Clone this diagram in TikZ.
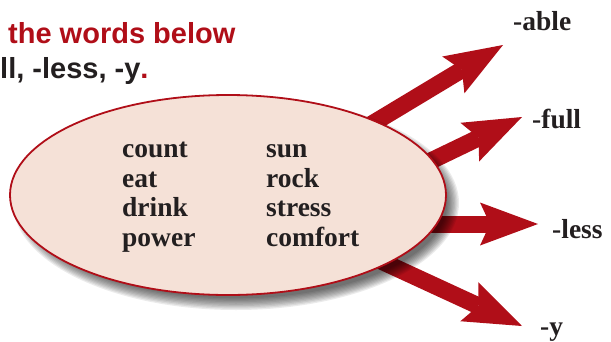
\documentclass[tikz,border=0pt]{standalone}
\usepackage{fontspec}
\setmainfont{Liberation Serif}
\newfontfamily\headfont{Liberation Sans}
\usetikzlibrary{arrows.meta,shapes.geometric}
\definecolor{brand}{RGB}{176,14,24}
\definecolor{ink}{RGB}{35,31,32}
\definecolor{blush}{RGB}{245,225,215}

\begin{document}
\begin{tikzpicture}[x=1pt,y=-1pt,
  heading/.style={anchor=base west, inner sep=0pt, font=\headfont\bfseries\fontsize{29}{35}\selectfont},
  word/.style={anchor=base west, inner sep=0pt, text=ink, font=\bfseries\fontsize{27.5}{30}\selectfont},
  suffix/.style={word},
  bigarrow/.style={draw=brand, line width=17pt,
    -{Stealth[length=58pt,width=43pt,inset=10pt,line width=0pt]}},
  bubble/.style={ellipse, draw=brand, line width=1.8pt, fill=blush,
    minimum width=436pt, minimum height=200pt, inner sep=0pt}
]
\useasboundingbox (0,0) rectangle (611,341);

% instruction lines
\node[heading, text=brand] (line1) at (8,43) {the words below};
\node[heading] (line2) at (0,78) {\textcolor{ink}{ll, -less, -y}\textcolor{brand}{.}};

% arrow ends
\coordinate (sAble) at (332,148); \coordinate (tAble) at (503,45);
\coordinate (sFull) at (387,182); \coordinate (tFull) at (522,117);
\coordinate (sLess) at (400,224); \coordinate (tLess) at (538,224);
\coordinate (sY)    at (368,255); \coordinate (tY)    at (522,326);

\draw[bigarrow] (sAble) -- (tAble);
\draw[bigarrow] (sFull) -- (tFull);
\draw[bigarrow] (sLess) -- (tLess);
\draw[bigarrow] (sY) -- (tY);

% soft shadow under the bubble
\foreach \k in {0,...,9}
  \fill[black, opacity=0.08] (236,203) ellipse [x radius={223pt-1.3pt*\k}, y radius={107pt-1.3pt*\k}];

\node[bubble] (bubble) at (228,195) {};

% word list
\node[word] (wCount)   at (122,157) {count};
\node[word] (wEat)     at (122,187) {eat};
\node[word] (wDrink)   at (122,216) {drink};
\node[word] (wPower)   at (122,246) {power};
\node[word] (wSun)     at (266,157) {sun};
\node[word] (wRock)    at (266,187) {rock};
\node[word] (wStress)  at (266,216) {stress};
\node[word] (wComfort) at (266,246) {comfort};

% suffix labels
\node[suffix] (lAble) at (513,30)  {-able};
\node[suffix] (lFull) at (532,128) {-full};
\node[suffix] (lLess) at (552,238) {-less};
\node[suffix] (lY)    at (540,335) {-y};
\end{tikzpicture}
\end{document}
